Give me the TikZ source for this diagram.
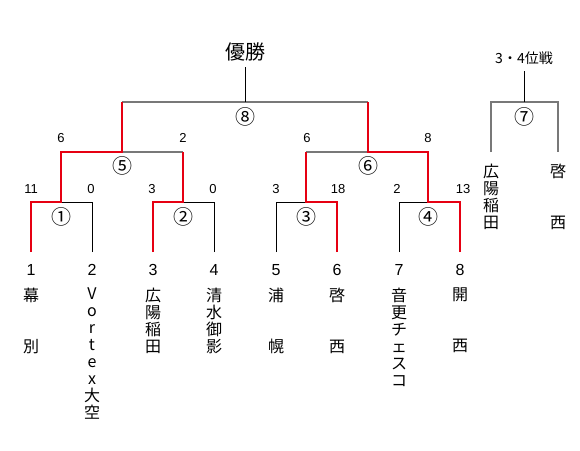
\documentclass[tikz,border=0pt]{standalone}
\usepackage{fontspec}
\setmainfont{Liberation Sans}
\newfontfamily\jp{Noto Sans CJK JP}
\usetikzlibrary{positioning}
\definecolor{winred}{RGB}{230,0,18}
\definecolor{linegray}{RGB}{120,120,120}
\tikzset{
  team/.style ={font=\fontsize{16}{16}\selectfont, inner sep=0pt},
  tname/.style={font=\jp\fontsize{16}{17}\selectfont, align=center, anchor=north, inner sep=0pt},
  score/.style={font=\fontsize{13}{13}\selectfont, inner sep=0pt},
  game/.style ={font=\jp\fontsize{20}{20}\selectfont, inner sep=0pt},
  ttl/.style  ={font=\jp\fontsize{20}{20}\selectfont, inner sep=0pt},
  subttl/.style={font=\jp\fontsize{14}{14}\selectfont, inner sep=0pt},
  win/.style  ={draw=winred, line width=2.8pt, line join=miter},
  lose/.style ={draw=black, line width=0.8pt},
  upper/.style={draw=linegray, line width=1.4pt}
}

\begin{document}
\begin{tikzpicture}[x=1pt, y=-1pt]
  \useasboundingbox (0,0) rectangle (580,450);
  % teams and line ends
  \foreach \i/\x in {1/31,2/92,3/153,4/214,5/276,6/337,7/399,8/460} {
    \node[team] (t\i) at (\x,270) {\i};
    \coordinate (e\i) at (\x,252);
  }
  \node[tname] (n1) at (31,288) {幕\\\mbox{}\\\mbox{}\\別};
  \node[tname] (n2) at (92,288) {V\\o\\r\\t\\e\\x\\大\\空};
  \node[tname] (n3) at (153,288) {広\\陽\\稲\\田};
  \node[tname] (n4) at (214,288) {清\\水\\御\\影};
  \node[tname] (n5) at (276,288) {浦\\\mbox{}\\\mbox{}\\幌};
  \node[tname] (n6) at (337,288) {啓\\\mbox{}\\\mbox{}\\西};
  \node[tname] (n7) at (399,288) {音\\更\\チ\\ェ\\ス\\コ};
  \node[tname] (n8) at (460,288) {開\\\mbox{}\\\mbox{}\\西};
  % junctions
  \coordinate (m1) at (61,202);
  \coordinate (m2) at (183,202);
  \coordinate (m3) at (306,202);
  \coordinate (m4) at (428,202);
  \coordinate (m5) at (122,152);
  \coordinate (m6) at (368,152);
  \coordinate (m8) at (245,102);
  \coordinate (m7) at (524,102);
  \coordinate (p1) at (491,152);
  \coordinate (p2) at (558,152);
  % titles
  \node[ttl] (champ) at (245,52) {優勝};
  \node[subttl] (third) at (524,58) {3・4位戦};
  % game numbers
  \node[game] (g1) at (61,217) {①};
  \node[game] (g2) at (183,217) {②};
  \node[game] (g3) at (306,217) {③};
  \node[game] (g4) at (428,217) {④};
  \node[game] (g5) at (122,166) {⑤};
  \node[game] (g6) at (368,166) {⑥};
  \node[game] (g7) at (524,117) {⑦};
  \node[game] (g8) at (245,117) {⑧};
  % scores
  \foreach \x/\s [count=\k] in {31/11,91/0,152/3,213/0,276/3,338/18,397/2,463/13}
    \node[score] (s\k) at (\x,189) {\s};
  \foreach \x/\s [count=\k] in {61/6,183/2,307/6,428/8}
    \node[score] (r\k) at (\x,138) {\s};
  % plain lines
  \draw[lose] (e2) |- (m1);
  \draw[lose] (e4) |- (m2);
  \draw[lose] (e5) |- (m3);
  \draw[lose] (e7) |- (m4);
  \draw[upper] (m2 |- m5) -- (m5);
  \draw[upper] (m3 |- m6) -- (m6);
  \draw[upper] (m5 |- m8) -- (m6 |- m8);
  \draw[lose] (m8) -- ([yshift=-6pt]champ.south);
  \draw[upper] (p1) |- (m7) -| (p2);
  \draw[lose] (m7) -- ([yshift=-6pt]third.south);
  % winners
  \draw[win] (e1) |- (m1) |- (m5) -- (m5 |- m8);
  \draw[win] (e3) |- (m2) -- (m2 |- m5);
  \draw[win] (e6) |- (m3) -- (m3 |- m6);
  \draw[win] (e8) |- (m4) |- (m6) -- (m6 |- m8);
  % third place teams
  \node[tname] (q1) at (491,164) {広\\陽\\稲\\田};
  \node[tname] (q2) at (558,164) {啓\\\mbox{}\\\mbox{}\\西};
\end{tikzpicture}
\end{document}
